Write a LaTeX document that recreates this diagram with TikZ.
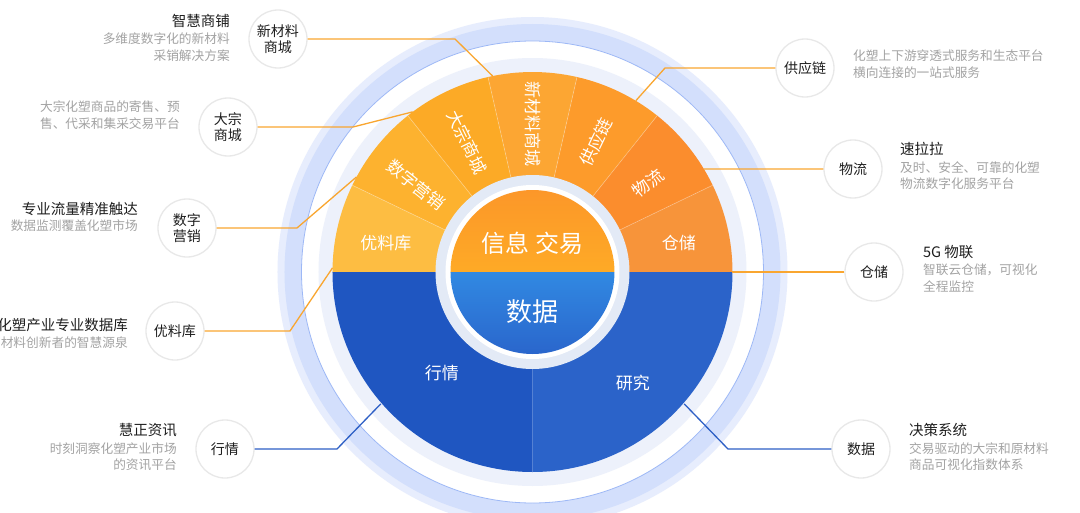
\documentclass[tikz,border=0pt]{standalone}
\usepackage{fontspec}
\setmainfont{Noto Sans CJK SC}
\definecolor{ring1}{HTML}{E7EDFD}
\definecolor{ring2}{HTML}{D3DFFC}
\definecolor{ringline}{HTML}{9DB8F6}
\definecolor{ring3}{HTML}{EDF1FB}
\definecolor{ring4}{HTML}{E3EAF6}
\definecolor{sg1}{HTML}{FDBD42}
\definecolor{sg2}{HTML}{FDB22F}
\definecolor{sg3}{HTML}{FCAA26}
\definecolor{sg4}{HTML}{FCA633}
\definecolor{sg5}{HTML}{FD9B2B}
\definecolor{sg6}{HTML}{FB8D2D}
\definecolor{sg7}{HTML}{F7943A}
\definecolor{bl1}{HTML}{1F56C1}
\definecolor{bl2}{HTML}{2B63C9}
\definecolor{cor1}{HTML}{FC9729}
\definecolor{cor2}{HTML}{FEAA26}
\definecolor{cbl1}{HTML}{3189E2}
\definecolor{cbl2}{HTML}{2A66CC}
\definecolor{olinec}{HTML}{F9A630}
\definecolor{blinec}{HTML}{2D5FC5}
\definecolor{bubline}{HTML}{E8E8E8}
\definecolor{titlec}{HTML}{1E1E1E}
\definecolor{descc}{HTML}{A3A3A3}
\begin{document}
\begin{tikzpicture}[x=1pt,y=1pt,
  bub/.style={circle, fill=white, draw=bubline, line width=1.3pt, minimum size=58pt, inner sep=0pt,
    font=\fontsize{14}{16}\selectfont, text=titlec, align=center},
  ttl/.style={inner sep=0pt, font=\fontsize{14.5}{17}\selectfont, text=titlec},
  dsc/.style={inner sep=0pt, font=\fontsize{12.7}{17}\selectfont, text=descc},
  wl/.style={text=white, inner sep=0pt, font=\fontsize{17}{20}\selectfont},
  oline/.style={draw=olinec, line width=1.3pt},
  bline/.style={draw=blinec, line width=1.3pt},
  sep/.style={draw=white, draw opacity=0.3, line width=0.7pt}]
\useasboundingbox (-532.5,-240) rectangle (547.5,272);
\clip (-532.5,-240) rectangle (547.5,272);
\fill[white] (-532.5,-240) rectangle (547.5,272);
% outer rings
\fill[ring1] (0,0) circle[radius=255pt];
\fill[ring2] (0,0) circle[radius=248pt];
\fill[white] (0,0) circle[radius=231pt];
\draw[ringline, line width=0.8pt] (0,0) circle[radius=231pt];
\fill[ring3] (0,0) circle[radius=214pt];
% orange segments
\foreach \i/\c in {0/sg7,1/sg6,2/sg5,3/sg4,4/sg3,5/sg2,6/sg1} {
  \fill[\c] (0,0) -- ({\i*180/7}:200) arc[start angle={\i*180/7}, end angle={(\i+1)*180/7}, radius=200pt] -- cycle;
}
% blue segments
\fill[bl1] (0,0) -- (180:200) arc[start angle=180, end angle=270, radius=200pt] -- cycle;
\fill[bl2] (0,0) -- (270:200) arc[start angle=270, end angle=360, radius=200pt] -- cycle;
\foreach \i in {1,...,6} { \draw[sep] ({\i*180/7}:97) -- ({\i*180/7}:200); }
% centre
\fill[ring4] (0,0) circle[radius=97pt];
\fill[white] (0,0) circle[radius=87pt];
\shade[top color=cor1, bottom color=cor2] (0:82) arc[start angle=0, end angle=180, radius=82pt] -- cycle;
\shade[top color=cbl1, bottom color=cbl2] (180:82) arc[start angle=180, end angle=360, radius=82pt] -- cycle;
\node[text=white, inner sep=0pt, font=\fontsize{24}{26}\selectfont] (cj) at (0,29) {信息 交易};
\node[text=white, inner sep=0pt, font=\fontsize{26}{28}\selectfont] (cs) at (0,-40) {数据};
% segment labels
\node[wl] (l1) at (-146.5,29) {优料库};
\node[wl, rotate=-38.6] (l2) at (-116.5,87) {数字营销};
\node[wl, rotate=-64.3] (l3) at (-65.5,130) {大宗商城};
\node[wl, rotate=-90] (l4) at (0,148) {新材料商城};
\node[wl, rotate=64.3] (l5) at (63.5,130) {供应链};
\node[wl, rotate=38.6] (l6) at (115.5,89) {物流};
\node[wl] (l7) at (146.5,29) {仓储};
\node[wl] (l8) at (-90.5,-101) {行情};
\node[wl] (l9) at (100.5,-111) {研究};
% bubbles
\node[bub] (n1) at (-254.5,233) {新材料\\商城};
\node[bub] (n2) at (-304.5,145) {大宗\\商城};
\node[bub] (n3) at (-345.5,44) {数字\\营销};
\node[bub] (n4) at (-357.5,-59) {优料库};
\node[bub] (n5) at (-307.5,-177) {行情};
\node[bub] (m1) at (272.5,204) {供应链};
\node[bub] (m2) at (320.5,103) {物流};
\node[bub] (m3) at (341.5,0) {仓储};
\node[bub] (m4) at (328.5,-177) {数据};
% connector points
\coordinate (k1) at (-77.5,233);  \coordinate (p1) at (101.5:200);
\coordinate (k2) at (-179.5,145); \coordinate (p2) at (126.8:200);
\coordinate (k3) at (-235.5,44);  \coordinate (p3) at (151.6:200);
\coordinate (k4) at (-242.5,-59); \coordinate (p4) at (178.8:200);
\coordinate (k5) at (-195.5,-177); \coordinate (p5) at (221:201);
\coordinate (k6) at (132.5,204);  \coordinate (p6) at (58.9:200);
\coordinate (p7) at (31:200);
\coordinate (p8) at (0:200);
\coordinate (k9) at (195.5,-177); \coordinate (p9) at (319:201);
\draw[oline] (n1.east) -- (k1) -- (p1);
\draw[oline] (n2.east) -- (k2) -- (p2);
\draw[oline] (n3.east) -- (k3) -- (p3);
\draw[oline] (n4.east) -- (k4) -- (p4);
\draw[bline] (n5.east) -- (k5) -- (p5);
\draw[oline] (m1.west) -- (k6) -- (p6);
\draw[oline] (m2.west) -- (p7);
\draw[oline] (m3.west) -- (p8);
\draw[bline] (m4.west) -- (k9) -- (p9);
% left texts
\node[ttl, anchor=east] (t1) at (-302.5,251) {智慧商铺};
\node[dsc, anchor=east] (d1a) at (-302.5,233) {多维度数字化的新材料};
\node[dsc, anchor=east] (d1b) at (-302.5,216) {采销解决方案};
\node[dsc, anchor=east] (d2a) at (-352.5,165) {大宗化塑商品的寄售、预};
\node[dsc, anchor=east] (d2b) at (-352.5,148) {售、代采和集采交易平台};
\node[ttl, anchor=east] (t3) at (-394.5,63) {专业流量精准触达};
\node[dsc, anchor=east] (d3a) at (-394.5,46) {数据监测覆盖化塑市场};
\node[ttl, anchor=east] (t4) at (-404.5,-53) {化塑产业专业数据库};
\node[dsc, anchor=east] (d4a) at (-404.5,-71) {材料创新者的智慧源泉};
\node[ttl, anchor=east] (t5) at (-355.5,-158) {慧正资讯};
\node[dsc, anchor=east] (d5a) at (-355.5,-177) {时刻洞察化塑产业市场};
\node[dsc, anchor=east] (d5b) at (-355.5,-193) {的资讯平台};
% right texts
\node[dsc, anchor=west] (e1a) at (320.5,216) {化塑上下游穿透式服务和生态平台};
\node[dsc, anchor=west] (e1b) at (320.5,199) {横向连接的一站式服务};
\node[ttl, anchor=west] (s2) at (367.5,123) {速拉拉};
\node[dsc, anchor=west] (e2a) at (367.5,104) {及时、安全、可靠的化塑};
\node[dsc, anchor=west] (e2b) at (367.5,88) {物流数字化服务平台};
\node[ttl, anchor=west] (s3) at (390.5,20) {5G 物联};
\node[dsc, anchor=west] (e3a) at (390.5,2) {智联云仓储，可视化};
\node[dsc, anchor=west] (e3b) at (390.5,-15) {全程监控};
\node[ttl, anchor=west] (s4) at (376.5,-158) {决策系统};
\node[dsc, anchor=west] (e4a) at (376.5,-177) {交易驱动的大宗和原材料};
\node[dsc, anchor=west] (e4b) at (376.5,-193) {商品可视化指数体系};
\end{tikzpicture}
\end{document}
